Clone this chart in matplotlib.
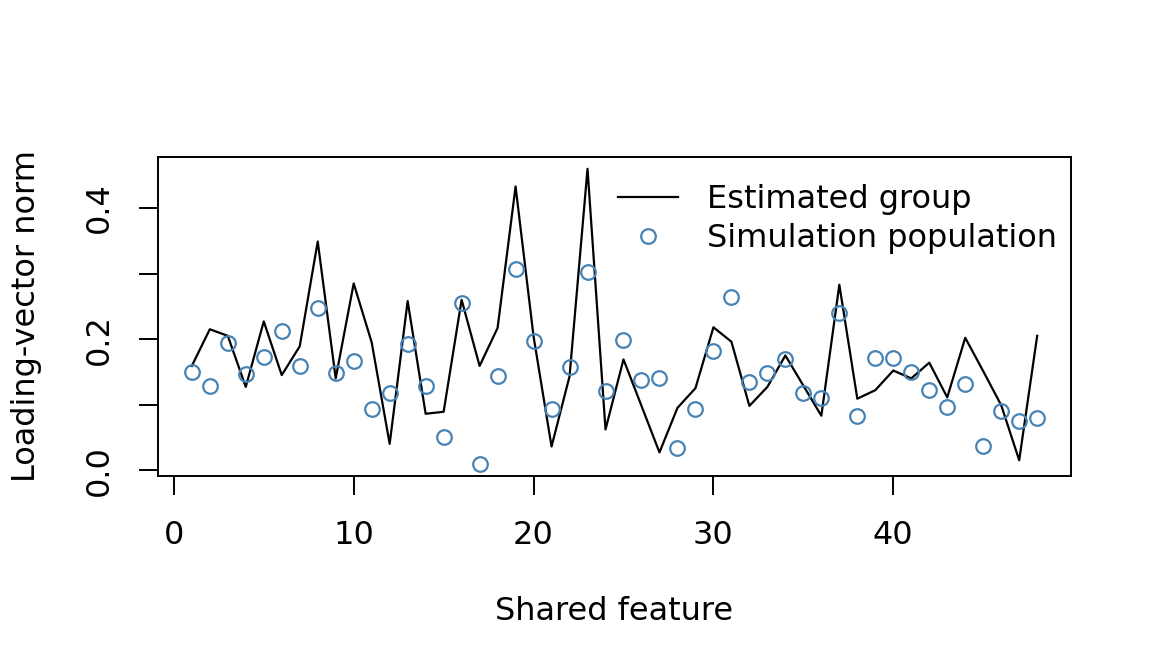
import numpy as np
import matplotlib
matplotlib.use('Agg')
import matplotlib.pyplot as plt

plt.rcParams['font.family'] = ['DejaVu Sans']

# ---- data ----
feature = np.arange(1, 49)
estimated_group = [0.159, 0.215, 0.205, 0.127, 0.227, 0.145, 0.189, 0.349, 0.140, 0.285,
                   0.195, 0.040, 0.258, 0.086, 0.089, 0.260, 0.159, 0.217, 0.433, 0.204,
                   0.036, 0.143, 0.460, 0.062, 0.169, 0.098, 0.027, 0.095, 0.125, 0.218,
                   0.196, 0.098, 0.127, 0.175, 0.129, 0.083, 0.283, 0.109, 0.122, 0.152,
                   0.140, 0.164, 0.111, 0.202, 0.151, 0.099, 0.015, 0.205]
simulation_population = [0.150, 0.129, 0.194, 0.147, 0.173, 0.212, 0.159, 0.247, 0.148, 0.167,
                         0.093, 0.117, 0.192, 0.128, 0.051, 0.255, 0.009, 0.144, 0.307, 0.197,
                         0.094, 0.158, 0.303, 0.121, 0.198, 0.137, 0.141, 0.034, 0.094, 0.182,
                         0.264, 0.134, 0.148, 0.169, 0.117, 0.110, 0.240, 0.083, 0.171, 0.171,
                         0.150, 0.122, 0.097, 0.131, 0.037, 0.090, 0.075, 0.080]
x_ticks = [0, 10, 20, 30, 40]
y_ticks = [0.0, 0.1, 0.2, 0.3, 0.4]
y_ticklabels = ['0.0', '', '0.2', '', '0.4']

fs = 23

fig = plt.figure(figsize=(11.52, 6.72), dpi=100)
ax = fig.add_axes([158/1152, 1 - 476/672, 913/1152, 319/672])

ax.plot(feature, estimated_group, color='black', linewidth=1.6, label='Estimated group')
ax.plot(feature, simulation_population, linestyle='none', marker='o', markersize=10.5,
        markerfacecolor='none', markeredgecolor='#4682B4', markeredgewidth=1.6,
        label='Simulation population')

# R-style 4% padding
allv = np.concatenate([estimated_group, simulation_population])
xr = feature.max() - feature.min()
yr = allv.max() - allv.min()
ax.set_xlim(feature.min() - 0.04 * xr, feature.max() + 0.04 * xr)
ax.set_ylim(allv.min() - 0.04 * yr, allv.max() + 0.04 * yr)

ax.set_xticks(x_ticks)
ax.set_yticks(y_ticks)
ax.set_yticklabels(y_ticklabels)
ax.tick_params(axis='both', direction='out', length=13.7, width=1.4, labelsize=fs)
ax.tick_params(axis='x', pad=18)
ax.tick_params(axis='y', pad=17, labelrotation=90)
for lab in ax.get_yticklabels():
    lab.set_va('center')

for sp in ax.spines.values():
    sp.set_linewidth(1.4)

fig.text(614/1152, 1 - 611/672, 'Shared feature', fontsize=fs, ha='center', va='center')
fig.text(27/1152, 1 - 316/672, 'Loading-vector norm', fontsize=fs, ha='center', va='center',
         rotation=90)

ax.legend(loc='upper left', bbox_to_anchor=(0.504, 0.915), frameon=False, fontsize=fs,
          handlelength=1.87, handletextpad=0.9, labelspacing=0.24, borderpad=0,
          borderaxespad=0)

fig.savefig('out.png', dpi=100)
